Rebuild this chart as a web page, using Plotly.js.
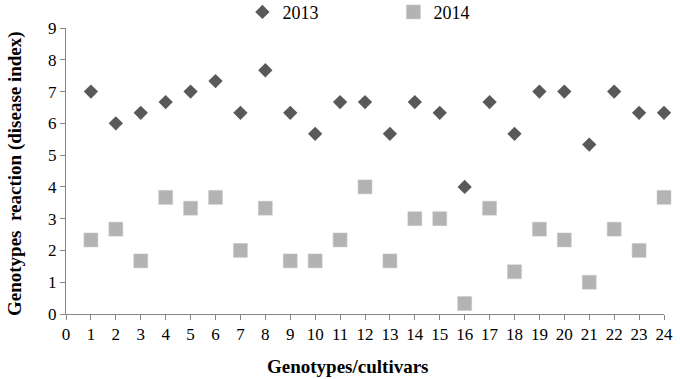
<!DOCTYPE html>
<html><head><meta charset="utf-8">
<script src="https://cdn.plot.ly/plotly-3.0.1.min.js"></script>
<style>body{margin:0;padding:0;background:#fff}#chart{width:680px;height:379px}</style>
</head><body><div id="chart"></div>
<script>
const genotypes = [1,2,3,4,5,6,7,8,9,10,11,12,13,14,15,16,17,18,19,20,21,22,23,24];
const y2013 = [7,6,6.33,6.67,7,7.33,6.33,7.67,6.33,5.67,6.67,6.67,5.67,6.67,6.33,4,6.67,5.67,7,7,5.33,7,6.33,6.33];
const y2014 = [2.33,2.67,1.67,3.67,3.33,3.67,2,3.33,1.67,1.67,2.33,4,1.67,3,3,0.33,3.33,1.33,2.67,2.33,1,2.67,2,3.67];
const xTicks = [0,1,2,3,4,5,6,7,8,9,10,11,12,13,14,15,16,17,18,19,20,21,22,23,24];
const yTicks = [0,1,2,3,4,5,6,7,8,9];

const font = {family: '"Liberation Serif", "Times New Roman", serif', color: '#000'};
const f = s => Object.assign({size: s}, font);
const traces = [
  {x: genotypes, y: y2013, name: '2013', type: 'scatter', mode: 'markers', cliponaxis: false,
   marker: {symbol: 'diamond', size: 11, color: '#595959', line: {width: 0}}},
  {x: genotypes, y: y2014, name: '2014', type: 'scatter', mode: 'markers', cliponaxis: false,
   marker: {symbol: 'square', size: 14, color: '#b3b3b3', line: {width: 0.5, color: '#c8c8c8'}}}
];
const layout = {
  width: 680, height: 379,
  margin: {l: 66, r: 16, t: 28, b: 65, autoexpand: false},
  paper_bgcolor: '#fff', plot_bgcolor: '#fff',
  font: f(16),
  showlegend: true,
  legend: {orientation: 'h', x: 0.295, xanchor: 'left', y: 1.12, yanchor: 'top',
    entrywidth: 106, entrywidthmode: 'pixels', font: f(18),
    bgcolor: 'rgba(0,0,0,0)', itemsizing: 'trace'},
  xaxis: {range: [0, 24], tickvals: xTicks, ticktext: xTicks.map(String), showgrid: false, zeroline: false,
    showline: true, linecolor: '#868686', linewidth: 1, ticks: 'outside', ticklen: 5, tickcolor: '#868686',
    tickfont: f(17), automargin: false},
  yaxis: {range: [0, 9], tickvals: yTicks, showgrid: false, zeroline: false,
    showline: true, linecolor: '#868686', linewidth: 1, ticks: 'outside', ticklen: 5, tickcolor: '#868686',
    tickfont: f(17), automargin: false},
  annotations: [
    {text: '<b>Genotypes/cultivars</b>', xref: 'paper', yref: 'paper', x: (348 - 66) / 598, y: -(366 - 314) / 286,
     xanchor: 'center', yanchor: 'middle', showarrow: false, font: f(19)},
    {text: '<b>Genotypes  reaction (disease index)</b>', xref: 'paper', yref: 'paper', x: -(66 - 15) / 598, y: (314 - 174) / 286,
     xanchor: 'center', yanchor: 'middle', textangle: -90, showarrow: false, font: f(19)}
  ]
};
Plotly.newPlot('chart', traces, layout, {displayModeBar: false});
</script></body></html>
